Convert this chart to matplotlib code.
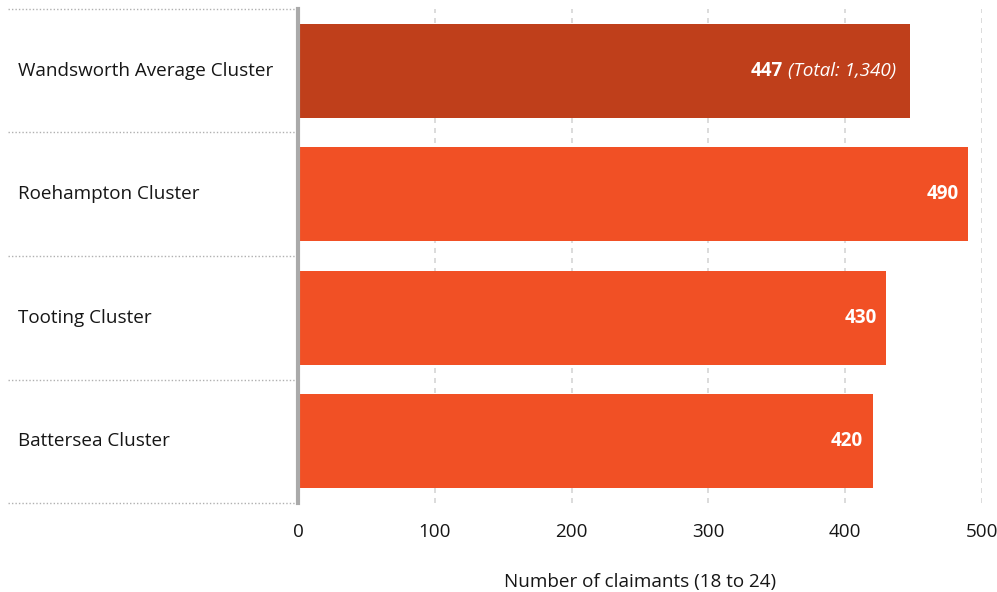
import matplotlib.pyplot as plt
import matplotlib.transforms as mtransforms

categories = ['Wandsworth Average Cluster', 'Roehampton Cluster', 'Tooting Cluster', 'Battersea Cluster']
values = [447, 490, 430, 420]
total_label = '(Total: 1,340)'
xticks = [0, 100, 200, 300, 400, 500]
colors = ['#BF3F1B', '#F15025', '#F15025', '#F15025']

plt.rcParams['font.family'] = ['Open Sans', 'DejaVu Sans']
FS = 13.6
TXT = '#161616'

fig = plt.figure(figsize=(9.97, 5.92), dpi=100)
ax = fig.add_axes([0.299, 0.150, 0.686, 0.835])

ypos = list(range(len(categories)))
ax.barh(ypos, values, height=0.76, color=colors, zorder=3)
ax.set_ylim(len(categories) - 0.5, -0.5)
ax.set_xlim(0, 500)

ax.set_xticks(xticks)
ax.set_xticklabels([str(t) for t in xticks], fontsize=FS, color=TXT)
ax.tick_params(axis='x', length=0, pad=14)
ax.set_yticks([])
ax.xaxis.grid(True, linestyle=(0, (3, 3)), color='#D5D5D5', linewidth=1.2, zorder=0)
ax.set_xlabel('Number of claimants (18 to 24)', fontsize=FS, color=TXT, labelpad=23)

for s in ['top', 'right', 'bottom']:
    ax.spines[s].set_visible(False)
ax.spines['left'].set_color('#AAAAAA')
ax.spines['left'].set_linewidth(3)
ax.spines['left'].set_zorder(4)

# category labels and dotted separators in the left margin
trans = mtransforms.blended_transform_factory(fig.transFigure, ax.transData)
for i, name in enumerate(categories):
    ax.text(0.018, i, name, transform=trans, ha='left', va='center',
            fontsize=FS, color=TXT)
for b in range(len(categories) + 1):
    ax.plot([0.008, 0.296], [b - 0.5, b - 0.5], transform=trans, clip_on=False,
            color='#B0B0B0', linestyle=(0, (1, 1.5)), linewidth=1.0)

# value labels
for i, v in enumerate(values):
    if i == 0:
        t = ax.annotate(total_label, xy=(v, i), xytext=(-10, 0), textcoords='offset points',
                        ha='right', va='center', color='white', fontsize=FS,
                        style='italic', zorder=5)
        fig.canvas.draw()
        bb = t.get_window_extent()
        x_right = ax.transData.inverted().transform((bb.x0 - 5, 0))[0]
        ax.text(x_right, i, str(v), ha='right', va='center', color='white',
                fontsize=FS, fontweight='bold', zorder=5)
    else:
        ax.annotate(str(v), xy=(v, i), xytext=(-7, 0), textcoords='offset points',
                    ha='right', va='center', color='white', fontsize=FS,
                    fontweight='bold', zorder=5)

fig.savefig('out.png', dpi=100)
